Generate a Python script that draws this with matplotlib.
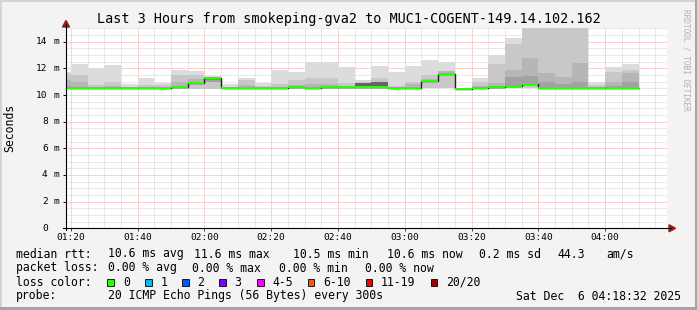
import matplotlib
matplotlib.use("Agg")
import matplotlib.pyplot as plt
from matplotlib.patches import Rectangle, Polygon
from matplotlib.lines import Line2D
from matplotlib.ticker import FixedLocator, MultipleLocator

W, H = 697, 310
MONO = "DejaVu Sans Mono"

# --- data ---
title = "Last 3 Hours from smokeping-gva2 to MUC1-COGENT-149.14.102.162"
window = ("01:18:32", "04:18:32")

bin_starts = ["01:15", "01:20", "01:25", "01:30", "01:35", "01:40", "01:45",
              "01:50", "01:55", "02:00", "02:05", "02:10", "02:15", "02:20",
              "02:25", "02:30", "02:35", "02:40", "02:45", "02:50", "02:55",
              "03:00", "03:05", "03:10", "03:15", "03:20", "03:25", "03:30",
              "03:35", "03:40", "03:45", "03:50", "03:55", "04:00", "04:05"]

# smoke levels in ms: outer (max) band, then inner bands, then min
smoke_max = [11.7, 12.35, 12.0, 12.25, 10.8, 11.3, 10.9, 11.9, 11.8, 11.4,
             10.8, 11.3, 10.9, 11.9, 11.75, 12.5, 12.5, 12.1, 11.1, 12.2,
             11.75, 12.2, 12.6, 12.45, 10.55, 11.3, 13.0, 14.25, 17.0,
             17.0, 17.0, 17.0, 11.0, 12.1, 12.35]
smoke_mid = [11.6, 11.5, 10.75, 10.95, 10.6, 10.75, 10.75, 11.5, 11.5, 11.3,
             10.6, 11.1, 10.7, 10.8, 11.1, 11.25, 11.3, 10.9, 10.95, 11.25,
             10.7, 11.0, 11.5, 11.8, 10.5, 10.95, 12.3, 13.85, 16.5,
             16.5, 16.5, 16.5, 10.72, 11.75, 11.85]
smoke_dark = [11.1, 10.95, 10.6, 10.7, 10.55, 10.6, 10.6, 11.0, 11.2, 11.25,
              10.55, 10.75, 10.55, 10.6, 10.75, 10.8, 10.8, 10.7, 10.9, 11.0,
              10.6, 10.8, 11.2, 11.8, 10.5, 10.7, 10.9, 11.9, 12.8,
              11.67, 11.35, 12.4, 10.6, 10.95, 11.65]
smoke_core = [10.7, 10.6, 10.55, 10.55, 10.5, 10.55, 10.55, 10.7, 11.0, 11.0,
              10.5, 10.6, 10.5, 10.55, 10.6, 10.6, 10.65, 10.6, 10.85, 10.9,
              10.55, 10.6, 11.1, 11.6, 10.48, 10.6, 10.7, 11.33, 11.4,
              11.0, 10.8, 11.0, 10.55, 10.7, 11.0]
smoke_dense = [10.5, 10.5, 10.5, 10.5, 10.5, 10.5, 10.5, 10.58, 10.9, 11.25,
               10.5, 10.5, 10.5, 10.5, 10.58, 10.5, 10.58, 10.58, 10.9, 11.0,
               10.5, 10.58, 11.07, 11.57, 10.45, 10.5, 10.58, 10.7, 10.85,
               10.5, 10.5, 10.55, 10.5, 10.5, 10.55]
smoke_min = [10.45, 10.45, 10.45, 10.45, 10.45, 10.45, 10.45, 10.45, 10.45,
             10.45, 10.45, 10.45, 10.45, 10.45, 10.45, 10.45, 10.45, 10.45,
             10.45, 10.45, 10.45, 10.48, 10.5, 10.5, 10.42, 10.45, 10.45,
             10.5, 10.5, 10.45, 10.45, 10.45, 10.45, 10.45, 10.45]
median_rtt = [10.5, 10.5, 10.5, 10.5, 10.5, 10.5, 10.5, 10.58, 10.9, 11.25,
              10.5, 10.5, 10.5, 10.5, 10.58, 10.5, 10.58, 10.58, 10.58, 10.58,
              10.5, 10.55, 11.07, 11.6, 10.45, 10.5, 10.58, 10.7, 10.85,
              10.5, 10.5, 10.55, 10.5, 10.5, 10.55]

x_tick_labels = ["01:20", "01:40", "02:00", "02:20", "02:40", "03:00",
                 "03:20", "03:40", "04:00"]
y_ticks = [0, 2, 4, 6, 8, 10, 12, 14]

rtt_stats = ["10.6 ms avg", "11.6 ms max", "10.5 ms min", "10.6 ms now",
             "0.2 ms sd", "44.3", "am/s"]
loss_stats = ["0.00 % avg", "0.00 % max", "0.00 % min", "0.00 % now"]
loss_labels = ["0", "1", "2", "3", "4-5", "6-10", "11-19", "20/20"]
loss_colors = ["#26ff00", "#00b8ff", "#0059ff", "#7e00ff", "#ff00ff",
               "#ff5500", "#ff0000", "#a10000"]
probe_text = "20 ICMP Echo Pings (56 Bytes) every 300s"
stamp = "Sat Dec  6 04:18:32 2025"


def to_min(s):
    parts = [int(p) for p in s.split(":")]
    return parts[0] * 60 + parts[1] + (parts[2] / 60 if len(parts) > 2 else 0)


def fx(x):
    return x / W


def fy(y):
    return 1 - y / H


starts = [to_min(s) for s in bin_starts]
edges = starts + [starts[-1] + 5]

fig = plt.figure(figsize=(W / 100, H / 100), dpi=100, facecolor="#f3f3f3")
ax = fig.add_axes([fx(66), fy(228.3), 601 / W, (228.3 - 27.7) / H])
ax.set_facecolor("white")
for sp in ax.spines.values():
    sp.set_visible(False)

ax.set_xlim(to_min(window[0]), to_min(window[1]))
ax.set_ylim(0, 15.05)

# grid (rrdtool style dotted lines)
ax.set_axisbelow(True)
ax.xaxis.set_major_locator(FixedLocator([to_min(t) for t in x_tick_labels]))
ax.xaxis.set_minor_locator(MultipleLocator(5))
ax.yaxis.set_major_locator(FixedLocator(y_ticks))
ax.yaxis.set_minor_locator(MultipleLocator(0.5))
ax.grid(which="minor", color="#d4d4d4", linestyle=(0, (1, 1)), linewidth=0.72)
ax.grid(which="major", color="#f0a8a8", linestyle=(0, (1, 1)), linewidth=0.72)

ax.set_xticklabels(x_tick_labels, fontsize=6.8, family=MONO)
ax.tick_params(axis="x", which="major", length=2, width=0.7, pad=1.5, color="#444444")
ax.tick_params(axis="y", which="major", length=2.2, width=0.7, labelleft=False)
ax.tick_params(which="minor", length=0)

# smoke bands: outer bands reach down to the min, inner ones sit on the median
ax.stairs(smoke_max, edges, baseline=smoke_min, fill=True, color="#dcdcdc", zorder=2)
ax.stairs(smoke_mid, edges, baseline=smoke_min, fill=True, color="#c8c8c8", zorder=2)
ax.stairs(smoke_dark, edges, baseline=median_rtt, fill=True, color="#b6b6b6", zorder=2)
ax.stairs(smoke_core, edges, baseline=median_rtt, fill=True, color="#a2a2a2", zorder=2)
ax.stairs(smoke_dense, edges, baseline=median_rtt, fill=True, color="#666666", zorder=2)

# median: dark step line with loss colored segments on top
ax.stairs(median_rtt, edges, baseline=None, color="#202020", linewidth=1.0, zorder=3)
med_lo = [m - 0.08 for m in median_rtt]
med_hi = [m + 0.08 for m in median_rtt]
ax.stairs(med_hi, edges, baseline=med_lo, fill=True, color=loss_colors[0], zorder=4)

# y tick labels "14 m" etc.
ytr = ax.get_yaxis_transform()
for v in y_ticks:
    ax.text((47.8 - 66) / 601, v, str(v), transform=ytr, ha="right", va="center",
            fontsize=6.8, family=MONO, clip_on=False)
    if v != 0:
        ax.text((53 - 66) / 601, v, "m", transform=ytr, ha="left", va="center",
                fontsize=6.8, family=MONO, clip_on=False)

# axes lines and arrows
fig.add_artist(Line2D([fx(66), fx(66)], [fy(230), fy(24)], color="black", lw=0.8))
fig.add_artist(Line2D([fx(63), fx(671)], [fy(228.3), fy(228.3)], color="black", lw=0.8))
fig.add_artist(Polygon([(fx(62.5), fy(27)), (fx(69.5), fy(27)), (fx(66), fy(20.5))],
                       closed=True, color="#a01818"))
fig.add_artist(Polygon([(fx(669), fy(224.8)), (fx(669), fy(231.8)), (fx(675.5), fy(228.3))],
                       closed=True, color="#a01818"))

# texts
fig.text(0.5, fy(19), title, ha="center", va="center", fontsize=9.75, family=MONO)
fig.text(fx(10), fy(128), "Seconds", rotation=90, ha="center", va="center",
         fontsize=8.3, family=MONO)
fig.text(fx(686), fy(60), "RRDTOOL / TOBI OETIKER", rotation=270, ha="center",
         va="center", fontsize=5.6, family=MONO, color="#b0b0b0")

fs = 8.3
fig.text(fx(16), fy(254), "median rtt:", ha="left", va="center", fontsize=fs, family=MONO)
for s, x in zip(rtt_stats, [107.6, 194.2, 293.3, 386.7, 479, 557.8, 606.7]):
    fig.text(fx(x), fy(254), s, ha="left", va="center", fontsize=fs, family=MONO)
fig.text(fx(16), fy(268), "packet loss:", ha="left", va="center", fontsize=fs, family=MONO)
for s, x in zip(loss_stats, [107.6, 192.4, 279, 365.3]):
    fig.text(fx(x), fy(268), s, ha="left", va="center", fontsize=fs, family=MONO)
fig.text(fx(16), fy(282), "loss color:", ha="left", va="center", fontsize=fs, family=MONO)
for lab, col, x in zip(loss_labels, loss_colors,
                       [107.3, 145, 182, 219, 257, 307.5, 365.5, 430.5]):
    fig.add_artist(Rectangle((fx(x), fy(285.5)), 6.5 / W, 7 / H, facecolor=col,
                             edgecolor="black", linewidth=0.6))
    fig.text(fx(x + 15.5), fy(282), lab, ha="left", va="center", fontsize=fs, family=MONO)
fig.text(fx(16), fy(296), "probe:", ha="left", va="center", fontsize=fs, family=MONO)
fig.text(fx(107.6), fy(296), probe_text, ha="left", va="center", fontsize=fs, family=MONO)
fig.text(fx(681), fy(296), stamp, ha="right", va="center", fontsize=fs, family=MONO)

# 3d-ish frame around the image
fig.add_artist(Rectangle((0, 0), fx(2), 1, color="#d4d4d4", lw=0))
fig.add_artist(Rectangle((0, fy(2)), 1, 2 / H, color="#d4d4d4", lw=0))
fig.add_artist(Rectangle((fx(695), 0), 2 / W, 1, color="#a4a4a4", lw=0))
fig.add_artist(Rectangle((0, 0), 1, 3 / H, color="#a4a4a4", lw=0))

fig.savefig("out.png", dpi=100, facecolor=fig.get_facecolor())
